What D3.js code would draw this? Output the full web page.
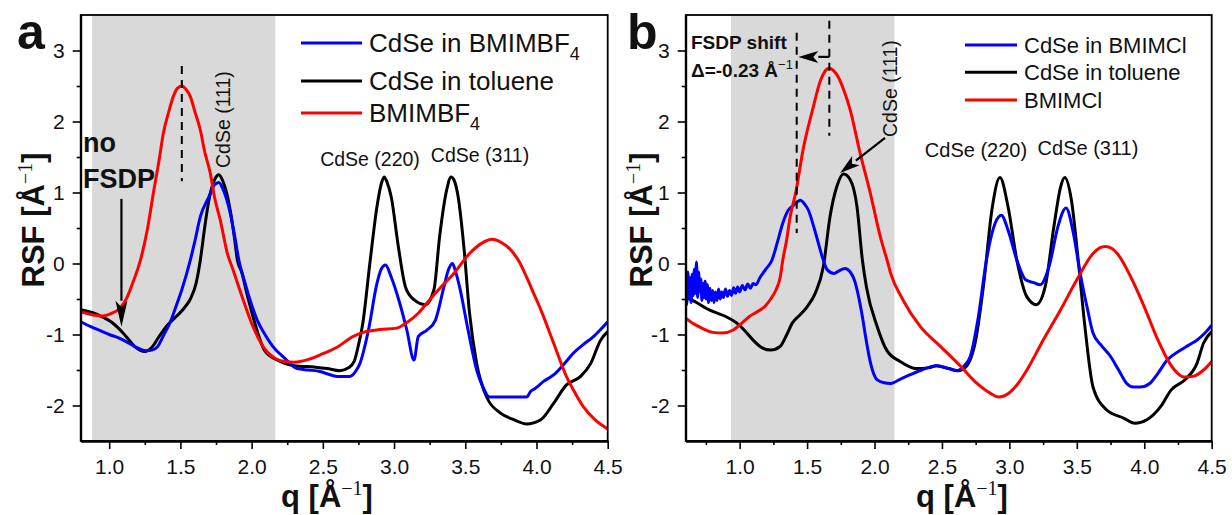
<!DOCTYPE html>
<html>
<head>
<meta charset="utf-8">
<script src="https://cdn.jsdelivr.net/npm/d3@7"></script>
<style>
  body { margin: 0; background: #fff; }
  svg { display: block; }
  text { font-family: "Liberation Sans", Arial, sans-serif; fill: #111; }
</style>
</head>
<body>
<svg id="chart" width="1232" height="515"></svg>
<script>
// ---- panel a data: [q, RSF] ----
const aBlue = [[0.80,-0.82],[0.87,-0.89],[0.93,-0.94],[1.00,-1.00],[1.07,-1.05],[1.12,-1.10],[1.18,-1.17],[1.26,-1.23],
  [1.30,-1.22],[1.34,-1.17],[1.38,-1.02],[1.43,-0.82],[1.47,-0.60],[1.51,-0.37],[1.57,0.05],[1.60,0.30],[1.64,0.66],
  [1.70,0.94],[1.74,1.11],[1.77,1.14],[1.80,1.04],[1.85,0.71],[1.88,0.40],[1.91,0.05],[1.95,-0.25],[1.99,-0.52],
  [2.04,-0.80],[2.10,-1.02],[2.15,-1.17],[2.23,-1.33],[2.32,-1.48],[2.40,-1.50],[2.48,-1.52],[2.54,-1.56],[2.60,-1.59],
  [2.69,-1.59],[2.73,-1.52],[2.76,-1.41],[2.82,-0.94],[2.88,-0.28],[2.91,-0.08],[2.94,-0.02],[2.98,-0.19],[3.04,-0.56],
  [3.09,-0.94],[3.14,-1.36],[3.17,-1.03],[3.23,-0.94],[3.29,-0.80],[3.35,-0.33],[3.38,-0.10],[3.41,0.00],[3.43,-0.10],
  [3.46,-0.33],[3.52,-0.94],[3.58,-1.50],[3.62,-1.72],[3.67,-1.88],[3.79,-1.88],[3.93,-1.88],[3.96,-1.80],[3.99,-1.76],
  [4.05,-1.66],[4.12,-1.57],[4.20,-1.40],[4.26,-1.26],[4.33,-1.14],[4.40,-1.03],[4.45,-0.93],[4.50,-0.82]]

const aBlack = [[0.80,-0.65],[0.88,-0.69],[0.96,-0.76],[1.02,-0.83],[1.07,-0.92],[1.12,-1.03],[1.18,-1.17],[1.25,-1.24],
  [1.30,-1.18],[1.35,-1.03],[1.40,-0.89],[1.48,-0.73],[1.53,-0.62],[1.57,-0.50],[1.61,-0.28],[1.64,0.05],[1.67,0.50],
  [1.70,0.89],[1.74,1.18],[1.77,1.25],[1.80,1.15],[1.83,0.95],[1.85,0.75],[1.88,0.35],[1.90,0.05],[1.93,-0.12],
  [1.97,-0.45],[2.01,-0.75],[2.05,-1.02],[2.09,-1.22],[2.18,-1.36],[2.30,-1.44],[2.45,-1.46],[2.53,-1.48],[2.62,-1.51],
  [2.68,-1.47],[2.72,-1.38],[2.75,-1.15],[2.78,-0.85],[2.83,0.00],[2.88,0.80],[2.91,1.12],[2.93,1.22],[2.95,1.15],
  [2.98,0.94],[3.03,0.24],[3.08,-0.33],[3.14,-0.51],[3.22,-0.58],[3.28,-0.37],[3.32,0.38],[3.37,1.04],[3.40,1.22],
  [3.42,1.18],[3.45,0.94],[3.49,0.24],[3.53,-0.70],[3.58,-1.41],[3.65,-1.88],[3.75,-2.11],[3.84,-2.20],[3.93,-2.26],
  [4.03,-2.20],[4.12,-1.97],[4.21,-1.71],[4.31,-1.59],[4.38,-1.41],[4.45,-1.08],[4.50,-0.96]]

const aRed = [[0.80,-0.68],[0.90,-0.73],[0.95,-0.74],[1.02,-0.70],[1.07,-0.64],[1.12,-0.50],[1.17,-0.25],[1.22,0.05],
  [1.27,0.50],[1.31,0.99],[1.35,1.45],[1.38,1.83],[1.42,2.15],[1.45,2.35],[1.48,2.47],[1.51,2.50],[1.54,2.45],
  [1.57,2.35],[1.60,2.15],[1.64,1.88],[1.67,1.58],[1.71,1.27],[1.74,0.93],[1.78,0.61],[1.83,0.14],[1.87,-0.09],
  [1.93,-0.45],[2.01,-0.89],[2.09,-1.20],[2.16,-1.33],[2.23,-1.38],[2.30,-1.39],[2.40,-1.35],[2.50,-1.27],[2.60,-1.18],
  [2.71,-1.03],[2.80,-0.96],[2.90,-0.93],[3.02,-0.91],[3.09,-0.83],[3.17,-0.70],[3.25,-0.51],[3.33,-0.33],[3.42,-0.14],
  [3.53,0.14],[3.62,0.29],[3.69,0.34],[3.75,0.30],[3.82,0.19],[3.88,0.02],[3.93,-0.19],[3.98,-0.42],[4.03,-0.65],
  [4.12,-1.12],[4.21,-1.59],[4.27,-1.82],[4.33,-2.02],[4.41,-2.20],[4.50,-2.33]]

// ---- panel b data ----
const bBlue = [[0.600,-0.30],[0.608,-0.58],[0.616,-0.12],[0.624,-0.50],[0.632,-0.20],[0.640,-0.55],[0.648,-0.15],
  [0.656,-0.45],[0.664,-0.08],[0.672,-0.42],[0.680,0.02],[0.688,-0.48],[0.696,-0.12],[0.704,-0.40],[0.712,-0.22],
  [0.720,-0.52],[0.728,-0.28],[0.736,-0.48],[0.744,-0.25],[0.752,-0.50],[0.760,-0.30],[0.770,-0.55],[0.780,-0.35],
  [0.790,-0.52],[0.800,-0.38],[0.810,-0.55],[0.820,-0.40],[0.832,-0.52],[0.844,-0.36],[0.856,-0.50],[0.868,-0.40],
  [0.880,-0.48],[0.895,-0.36],[0.910,-0.46],[0.925,-0.38],[0.940,-0.45],[0.955,-0.34],[0.970,-0.42],[0.985,-0.33],
  [1.000,-0.40],[1.020,-0.31],[1.040,-0.37],[1.060,-0.29],[1.080,-0.35],[1.100,-0.28],[1.120,-0.30],
  [1.15,-0.20],[1.19,-0.09],[1.24,0.05],[1.28,0.30],[1.32,0.57],[1.36,0.75],[1.40,0.82],[1.45,0.89],[1.48,0.84],
  [1.51,0.75],[1.54,0.58],[1.57,0.38],[1.62,0.05],[1.65,-0.09],[1.70,-0.14],[1.74,-0.10],[1.78,-0.07],[1.82,-0.12],
  [1.85,-0.23],[1.88,-0.45],[1.91,-0.75],[1.94,-1.10],[1.97,-1.40],[2.02,-1.64],[2.07,-1.68],[2.12,-1.69],[2.20,-1.62],
  [2.26,-1.57],[2.35,-1.50],[2.46,-1.44],[2.55,-1.48],[2.61,-1.51],[2.66,-1.45],[2.71,-1.31],[2.77,-0.75],[2.83,0.05],
  [2.895,0.57],[2.94,0.68],[2.99,0.47],[3.055,0.05],[3.12,-0.23],[3.18,-0.27],[3.23,-0.30],[3.27,-0.18],[3.30,0.00],
  [3.36,0.52],[3.42,0.78],[3.475,0.42],[3.525,-0.14],[3.58,-0.65],[3.62,-0.98],[3.68,-1.15],[3.75,-1.31],[3.81,-1.50],
  [3.87,-1.69],[3.92,-1.74],[3.97,-1.74],[4.04,-1.69],[4.10,-1.55],[4.17,-1.36],[4.27,-1.22],[4.33,-1.15],[4.39,-1.08],
  [4.45,-0.98],[4.50,-0.87]]

const bBlack = [[0.60,-0.47],[0.68,-0.55],[0.75,-0.63],[0.82,-0.69],[0.90,-0.75],[0.98,-0.84],[1.04,-0.95],[1.10,-1.08],
  [1.16,-1.18],[1.23,-1.22],[1.30,-1.17],[1.35,-1.00],[1.39,-0.84],[1.45,-0.72],[1.50,-0.61],[1.56,-0.42],[1.62,-0.05],
  [1.67,0.66],[1.72,1.08],[1.77,1.26],[1.82,1.18],[1.87,0.80],[1.91,0.05],[1.94,-0.33],[2.02,-0.89],[2.09,-1.22],
  [2.19,-1.38],[2.31,-1.48],[2.40,-1.47],[2.46,-1.44],[2.55,-1.48],[2.62,-1.51],[2.68,-1.45],[2.75,-1.08],[2.81,-0.28],
  [2.87,0.75],[2.93,1.21],[2.99,0.80],[3.055,0.05],[3.13,-0.47],[3.20,-0.58],[3.265,-0.33],[3.33,0.52],[3.38,1.08],
  [3.41,1.21],[3.46,0.89],[3.51,0.05],[3.56,-0.89],[3.62,-1.74],[3.72,-2.06],[3.85,-2.18],[3.93,-2.25],[4.02,-2.20],
  [4.12,-2.02],[4.20,-1.78],[4.30,-1.64],[4.39,-1.41],[4.44,-1.12],[4.50,-0.96]]

const bRed = [[0.60,-0.77],[0.66,-0.85],[0.72,-0.91],[0.80,-0.97],[0.87,-0.98],[0.95,-0.94],[1.01,-0.85],[1.07,-0.75],
  [1.13,-0.68],[1.19,-0.60],[1.23,-0.50],[1.27,-0.37],[1.30,-0.20],[1.32,0.05],[1.35,0.35],[1.37,0.61],[1.42,1.04],
  [1.47,1.60],[1.54,2.16],[1.60,2.58],[1.63,2.70],[1.665,2.75],[1.70,2.71],[1.73,2.63],[1.78,2.40],[1.82,2.16],
  [1.89,1.58],[1.97,0.98],[2.04,0.40],[2.10,0.00],[2.12,-0.14],[2.21,-0.51],[2.34,-0.89],[2.49,-1.17],[2.64,-1.45],
  [2.76,-1.69],[2.86,-1.83],[2.92,-1.88],[3.00,-1.82],[3.06,-1.70],[3.13,-1.50],[3.25,-1.08],[3.38,-0.65],[3.50,-0.23],
  [3.62,0.14],[3.67,0.22],[3.71,0.24],[3.76,0.21],[3.80,0.14],[3.90,-0.19],[4.00,-0.61],[4.09,-1.03],[4.19,-1.41],
  [4.25,-1.55],[4.30,-1.60],[4.36,-1.59],[4.44,-1.50],[4.50,-1.38]]

// ---- axes / labels ----
const yMajor = [-2, -1, 0, 1, 2, 3]
const yMinor = [-1.5, -0.5, 0.5, 1.5, 2.5]
const xMajor = [1.0, 1.5, 2.0, 2.5, 3.0, 3.5, 4.0, 4.5]
const xMinor = [0.75, 1.25, 1.75, 2.25, 2.75, 3.25, 3.75, 4.25]
const aLegend = [['CdSe in BMIMBF', '4', '#0000ff'], ['CdSe in toluene', '', '#000000'], ['BMIMBF', '4', '#ff0000']]
const bLegend = [['CdSe in BMIMCl', '', '#0000ff'], ['CdSe in toluene', '', '#000000'], ['BMIMCl', '', '#ff0000']]
const aBand = [0.88, 2.167]
const bBand = [0.936, 2.148]

const svg = d3.select('#chart')
svg.append('rect').attr('width', 1232).attr('height', 515).attr('fill', '#fff')

const yScale = d3.scaleLinear().domain([-2.5, 3.5]).range([441, 15])

const lineGen = (x) => d3.line()
    .x(d => x(d[0]))
    .y(d => yScale(d[1]))
    .curve(d3.curveMonotoneX)

function drawPanel(id, xDomain, xRange, band, series) {
    const x = d3.scaleLinear().domain(xDomain).range(xRange)
    const g = svg.append('g').attr('class', 'panel-' + id)

    g.append('clipPath').attr('id', 'clip-' + id)
        .append('rect')
        .attr('x', xRange[0]).attr('y', 15)
        .attr('width', xRange[1] - xRange[0]).attr('height', 426)

    g.append('rect')
        .attr('x', x(band[0])).attr('y', 15)
        .attr('width', x(band[1]) - x(band[0])).attr('height', 425)
        .attr('fill', '#d9d9d9')

    const curves = g.append('g').attr('clip-path', 'url(#clip-' + id + ')')
    series.forEach(s => {
        curves.append('path')
            .datum(s[0])
            .attr('d', lineGen(x))
            .attr('fill', 'none')
            .attr('stroke', s[1])
            .attr('stroke-width', 3)
            .attr('stroke-linejoin', 'round')
    })

    // frame
    g.append('rect')
        .attr('x', xRange[0]).attr('y', 15)
        .attr('width', xRange[1] - xRange[0]).attr('height', 426)
        .attr('fill', 'none').attr('stroke', '#000').attr('stroke-width', 1.8)

    // x axis
    g.append('g').attr('transform', 'translate(0,441)')
        .call(d3.axisBottom(x).tickValues(xMajor).tickSize(8).tickSizeOuter(0).tickPadding(10).tickFormat(d3.format('.1f')))
    g.append('g').attr('transform', 'translate(0,441)')
        .call(d3.axisBottom(x).tickValues(xMinor.filter(v => v > xDomain[0])).tickSize(4).tickSizeOuter(0).tickFormat(''))

    // y axis
    g.append('g').attr('transform', 'translate(' + xRange[0] + ',0)')
        .call(d3.axisLeft(yScale).tickValues(yMajor).tickSize(8).tickSizeOuter(0).tickPadding(8).tickFormat(d => String(d)))
    g.append('g').attr('transform', 'translate(' + xRange[0] + ',0)')
        .call(d3.axisLeft(yScale).tickValues(yMinor).tickSize(4).tickSizeOuter(0).tickFormat(''))

    g.selectAll('.domain').attr('stroke', '#000').attr('stroke-width', 1.8)
    g.selectAll('.tick line').attr('stroke', '#000').attr('stroke-width', 1.6)
    g.selectAll('.tick text')
        .style('font-family', '"Liberation Sans", Arial, sans-serif')
        .style('font-size', '21px').attr('fill', '#1a1a1a')

    return {g, x}
}

function axisTitle(g, tx, ty, rotate, anchor) {
    const t = g.append('text')
        .attr('transform', 'translate(' + tx + ',' + ty + ')' + (rotate ? ' rotate(-90)' : ''))
        .attr('text-anchor', anchor)
        .style('font-size', '31px').style('font-weight', 'bold')
    t.append('tspan').text(rotate ? 'RSF [Å' : 'q [Å')
    t.append('tspan').attr('dy', -12)
        .style('font-family', '"Liberation Serif", "Times New Roman", serif')
        .style('font-weight', 'normal').style('font-size', '20px').text('−1')
    t.append('tspan').attr('dy', 12).text(']')
}

function legend(g, items, x0, x1, ys, fontSize, subSize) {
    items.forEach((it, i) => {
        g.append('line')
            .attr('x1', x0).attr('x2', x1).attr('y1', ys[i]).attr('y2', ys[i])
            .attr('stroke', it[2]).attr('stroke-width', 3)
        const t = g.append('text')
            .attr('x', x1 + 7).attr('y', ys[i] + fontSize * 0.36)
            .style('font-size', fontSize + 'px')
        t.append('tspan').text(it[0])
        if (it[1]) t.append('tspan').attr('dy', subSize * 0.45).style('font-size', subSize + 'px').text(it[1])
    })
}

function arrow(g, x1, y1, x2, y2, len, half) {
    const ang = Math.atan2(y2 - y1, x2 - x1)
    const bx = x2 - len * Math.cos(ang), by = y2 - len * Math.sin(ang)
    g.append('line').attr('x1', x1).attr('y1', y1).attr('x2', bx).attr('y2', by)
        .attr('stroke', '#000').attr('stroke-width', 2.2)
    const px = -Math.sin(ang) * half, py = Math.cos(ang) * half
    g.append('polygon')
        .attr('points', [[x2, y2], [bx + px, by + py], [bx + len * 0.25 * Math.cos(ang), by + len * 0.25 * Math.sin(ang)], [bx - px, by - py]].map(p => p.join(',')).join(' '))
        .attr('fill', '#000')
}

function dashed(g, x, q, v0, v1) {
    g.append('line')
        .attr('x1', x(q)).attr('x2', x(q)).attr('y1', yScale(v0)).attr('y2', yScale(v1))
        .attr('stroke', '#000').attr('stroke-width', 2).attr('stroke-dasharray', '8,6')
}

function rotLabel(g, tx, ty, txt, size) {
    g.append('text').attr('transform', 'translate(' + tx + ',' + ty + ') rotate(-90)')
        .style('font-size', size + 'px').attr('fill', '#1a1a1a').text(txt)
}

function centerLabel(g, tx, ty, txt, size) {
    g.append('text').attr('x', tx).attr('y', ty).attr('text-anchor', 'middle')
        .style('font-size', size + 'px').attr('fill', '#1a1a1a').text(txt)
}

// ---- Panel a ----
const pa = drawPanel('a', [0.8, 4.5], [80.7, 607.7], aBand, [[aBlack, '#000'], [aBlue, '#0000ff'], [aRed, '#ff0000']])
dashed(pa.g, pa.x, 1.51, 2.78, 1.16)
rotLabel(pa.g, 230, 168, 'CdSe (111)', 19.5)
centerLabel(pa.g, 370, 166, 'CdSe (220)', 19.5)
centerLabel(pa.g, 480, 162, 'CdSe (311)', 19.5)
pa.g.append('text').attr('x', 83).attr('y', 152).style('font-size', '27px').style('font-weight', 'bold').text('no')
pa.g.append('text').attr('x', 83).attr('y', 188).style('font-size', '27px').style('font-weight', 'bold').text('FSDP')
arrow(pa.g, pa.x(1.086), yScale(0.91), pa.x(1.086), yScale(-0.89), 26, 6)
legend(pa.g, aLegend, 301, 362, [43, 81, 113], 26, 18)
axisTitle(pa.g, 44, 220, true, 'middle')
axisTitle(pa.g, 327, 507, false, 'middle')
pa.g.append('text').attr('x', 17).attr('y', 49).style('font-size', '50px').style('font-weight', 'bold').text('a')

// ---- Panel b ----
const pb = drawPanel('b', [0.6, 4.5], [685.7, 1211.7], bBand, [[bBlack, '#000'], [bBlue, '#0000ff'], [bRed, '#ff0000']])
dashed(pb.g, pb.x, 1.423, 3.25, 0.43)
dashed(pb.g, pb.x, 1.665, 3.42, 1.80)
arrow(pb.g, pb.x(1.665), yScale(2.91), pb.x(1.435), yScale(2.91), 20, 6)
pb.g.append('text').attr('x', 691).attr('y', 49).style('font-size', '19px').style('font-weight', 'bold').text('FSDP shift')
const dl = pb.g.append('text').attr('x', 691).attr('y', 77).style('font-size', '19px').style('font-weight', 'bold')
dl.append('tspan').text('Δ=-0.23 Å')
dl.append('tspan').attr('dy', -8).style('font-size', '13px').style('font-weight', 'normal').text('−1')
rotLabel(pb.g, 897, 137, 'CdSe (111)', 19.5)
arrow(pb.g, pb.x(2.078), yScale(1.77), pb.x(1.745), yScale(1.275), 20, 6)
centerLabel(pb.g, 976, 157, 'CdSe (220)', 20)
centerLabel(pb.g, 1088, 155, 'CdSe (311)', 20)
legend(pb.g, bLegend, 965, 1017, [45, 72.3, 100], 22, 16)
axisTitle(pb.g, 652, 220, true, 'middle')
axisTitle(pb.g, 962, 507, false, 'middle')
pb.g.append('text').attr('x', 627).attr('y', 49).style('font-size', '50px').style('font-weight', 'bold').text('b')
</script>
</body>
</html>
